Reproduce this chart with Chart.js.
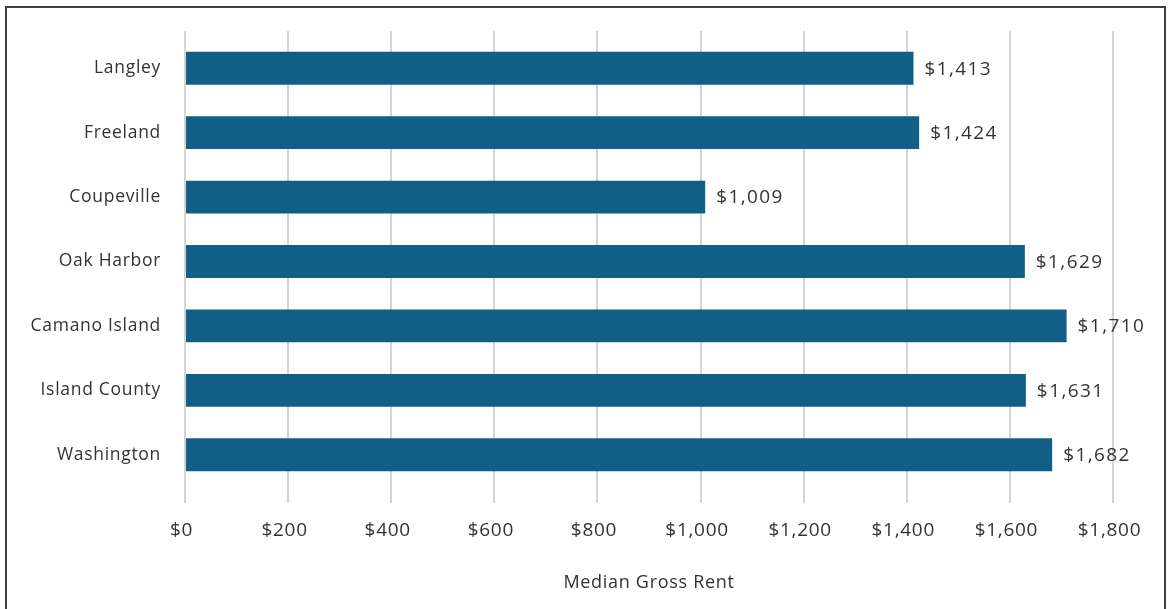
<!DOCTYPE html>
<html>
<head>
<meta charset="utf-8">
<script src="https://cdn.jsdelivr.net/npm/chart.js@4"></script>
<style>
  html, body { margin: 0; padding: 0; background: #fff; }
  #wrap { position: relative; width: 1170px; height: 609px; overflow: hidden; }
  #frame { position: absolute; left: 5px; top: 6px; width: 1161px; height: 620px; border: 2px solid #3f3f3f; box-sizing: border-box; }
  canvas { position: absolute; left: 0; top: 0; }
</style>
</head>
<body>
<div id="wrap">
  <div id="frame"></div>
  <canvas id="rent-chart" width="1170" height="609"></canvas>
</div>
<script>
// categories and values
const places = ['Langley', 'Freeland', 'Coupeville', 'Oak Harbor', 'Camano Island', 'Island County', 'Washington'];
const medianRent = [1413, 1424, 1009, 1629, 1710, 1631, 1682];
const axisMax = 1800;
const axisStep = 200;

const fmt = v => '$' + v.toLocaleString('en-US');
const FONT = "'Open Sans', 'Liberation Sans', Arial, sans-serif";

// the original font is a bit wider, so open the letters up slightly
const spacing = {
  id: 'spacing',
  beforeLayout(chart) { chart.ctx.letterSpacing = '0.7px'; },
  beforeDraw(chart) { chart.ctx.letterSpacing = '0.7px'; }
};

// value labels at the end of each bar
const barLabels = {
  id: 'barLabels',
  afterDatasetsDraw(chart) {
    const ctx = chart.ctx;
    const meta = chart.getDatasetMeta(0);
    ctx.save();
    ctx.font = '19px ' + FONT;
    ctx.letterSpacing = '1.4px';
    ctx.fillStyle = '#333';
    ctx.textBaseline = 'middle';
    ctx.textAlign = 'left';
    meta.data.forEach((bar, i) => {
      ctx.fillText(fmt(medianRent[i]), bar.x + 11, bar.y + 1);
    });
    ctx.restore();
  }
};

// gridlines poke a little above the plot area
const gridTop = {
  id: 'gridTop',
  beforeDatasetsDraw(chart) {
    const ctx = chart.ctx;
    const x = chart.scales.x;
    const top = chart.chartArea.top;
    ctx.save();
    ctx.strokeStyle = '#d4d4d4';
    ctx.lineWidth = 2;
    x.ticks.forEach(t => {
      const px = Math.round(x.getPixelForValue(t.value));
      ctx.beginPath();
      ctx.moveTo(px, top - 5);
      ctx.lineTo(px, top);
      ctx.stroke();
    });
    ctx.restore();
  }
};

new Chart(document.getElementById('rent-chart'), {
  type: 'bar',
  data: {
    labels: places,
    datasets: [{
      label: 'Median Gross Rent',
      data: medianRent,
      backgroundColor: '#115f87',
      categoryPercentage: 1,
      barPercentage: 0.51
    }]
  },
  plugins: [spacing, barLabels, gridTop],
  options: {
    indexAxis: 'y',
    responsive: false,
    animation: false,
    layout: { padding: { top: 36, right: 57, left: 0, bottom: 0 } },
    plugins: {
      legend: { display: false },
      tooltip: { enabled: false }
    },
    scales: {
      x: {
        min: 0,
        max: axisMax,
        ticks: {
          stepSize: axisStep,
          callback: v => fmt(v),
          color: '#333',
          font: { family: FONT, size: 19 },
          padding: 16,
          labelOffset: -3.5,
          maxRotation: 0,
          autoSkip: false
        },
        grid: {
          color: '#d4d4d4',
          lineWidth: 2,
          drawTicks: true,
          tickLength: 16,
          tickColor: '#d4d4d4'
        },
        border: { display: false },
        title: {
          display: true,
          text: 'Median Gross Rent',
          color: '#333',
          font: { family: FONT, size: 18 },
          padding: { top: 0, bottom: 15 }
        },
        afterFit(scale) { scale.height = 122; }
      },
      y: {
        ticks: {
          color: '#333',
          font: { family: FONT, size: 17.5 },
          padding: 24
        },
        grid: { display: false, drawTicks: false },
        border: { display: false },
        afterFit(scale) { scale.width = 185; }
      }
    }
  }
});
</script>
</body>
</html>
